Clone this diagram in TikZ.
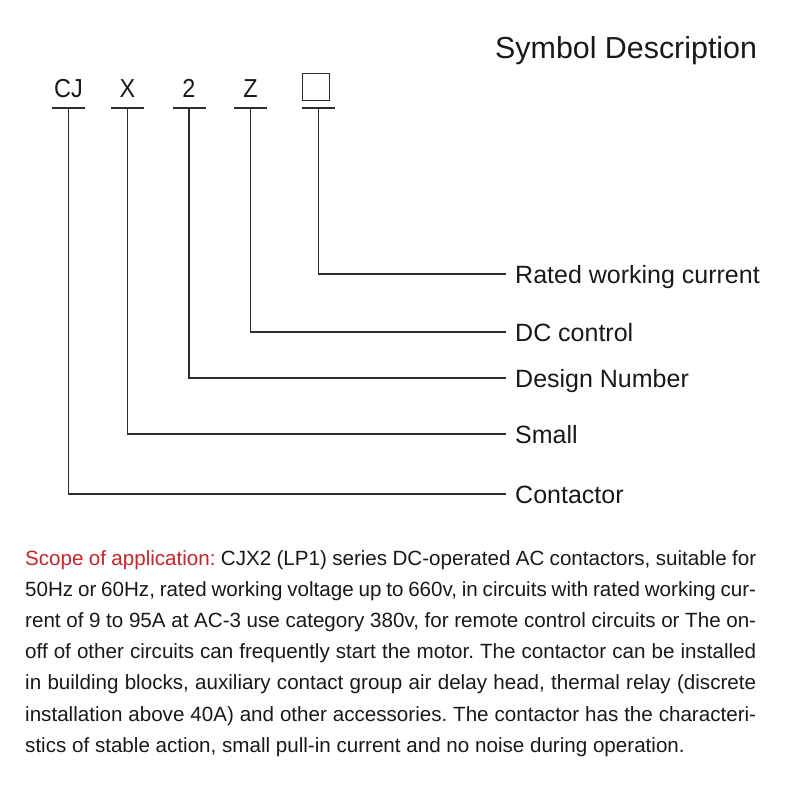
\documentclass[tikz,border=0pt]{standalone}
\usepackage{fontspec}
\setmainfont{Liberation Sans}
\frenchspacing
\definecolor{ink}{RGB}{25,25,25}
\definecolor{wire}{RGB}{45,45,45}
\definecolor{scopered}{RGB}{196,38,44}
\tikzset{
  sym/.style={inner sep=0pt, anchor=base, font=\fontsize{26}{30}\selectfont, text=ink},
  lab/.style={anchor=west, inner xsep=9pt, inner ysep=0pt, text height=18pt, text depth=0pt, font=\fontsize{25}{30}\selectfont, text=ink},
  wireline/.style={draw=wire, line width=1.3pt},
  para/.style={anchor=base west, inner sep=0pt, font=\fontsize{20.6}{31}\selectfont, text=ink}
}
\begin{document}
\begin{tikzpicture}[x=1pt,y=-1pt]
\useasboundingbox (0,0) rectangle (790,790);
% title
\node[anchor=base west, inner sep=0pt, font=\fontsize{30.4}{36}\selectfont, text=ink] (title) at (495,58) {Symbol Description};
% symbols
\node[sym] (cj) at (68.5,97) {\scalebox{0.9}[1]{CJ}};
\node[sym] (x) at (127.5,97) {\scalebox{0.9}[1]{X}};
\node[sym] (two) at (189,97) {\scalebox{0.9}[1]{2}};
\node[sym] (z) at (250.5,97) {\scalebox{0.9}[1]{Z}};
\node[draw=wire, line width=1.5pt, minimum size=27pt, inner sep=0pt] (box) at (316,87) {};
% tick points
\coordinate (cjt) at (68.5,108);
\coordinate (xt) at (127.5,108);
\coordinate (twot) at (189,108);
\coordinate (zt) at (250.5,108);
\coordinate (boxt) at (318.5,108);
\foreach \t in {cjt,xt,twot,zt,boxt}{
  \draw[wireline] ([xshift=-16.5pt]\t) -- ([xshift=16.5pt]\t);
}
% labels
\node[lab] (lrated) at (506,274) {Rated working current};
\node[lab] (ldc) at (506,332) {DC control};
\node[lab] (ldesign) at (506,378) {Design Number};
\node[lab] (lsmall) at (506,434) {Small};
\node[lab] (lcon) at (506,494) {Contactor};
% connectors
\draw[wireline] (boxt) |- (lrated.west);
\draw[wireline] (zt) |- (ldc.west);
\draw[wireline] (twot) |- (ldesign.west);
\draw[wireline] (xt) |- (lsmall.west);
\draw[wireline] (cjt) |- (lcon.west);
% paragraph
\node[para] (p1) at (25,565) {\makebox[731pt][s]{\textcolor{scopered}{Scope of application:} CJX2 (LP1) series DC-operated AC contactors, suitable for}};
\node[para] (p2) at (25,596.2) {\makebox[731pt][s]{50Hz or 60Hz, rated working voltage up to 660v, in circuits with rated working cur-}};
\node[para] (p3) at (25,627.4) {\makebox[731pt][s]{rent of 9 to 95A at AC-3 use category 380v, for remote control circuits or The on-}};
\node[para] (p4) at (25,658.6) {\makebox[731pt][s]{off of other circuits can frequently start the motor. The contactor can be installed}};
\node[para] (p5) at (25,689.8) {\makebox[731pt][s]{in building blocks, auxiliary contact group air delay head, thermal relay (discrete}};
\node[para] (p6) at (25,721) {\makebox[731pt][s]{installation above 40A) and other accessories. The contactor has the characteri-}};
\node[para] (p7) at (25,752.2) {stics of stable action, small pull-in current and no noise during operation.};
\end{tikzpicture}
\end{document}
